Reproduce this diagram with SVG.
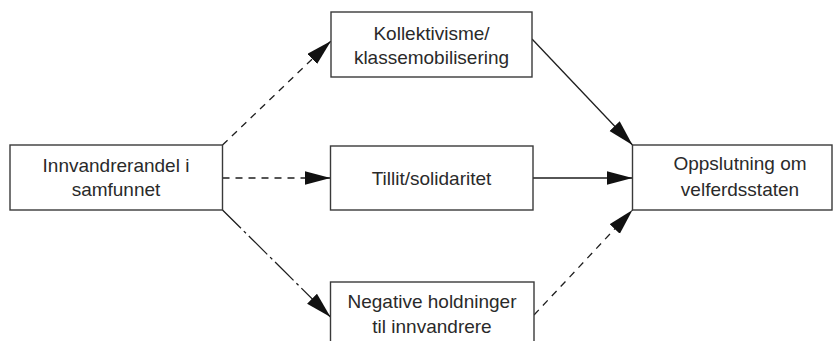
<svg xmlns="http://www.w3.org/2000/svg" width="833" height="341" viewBox="0 0 833 341">
<style>
.box{fill:#fff;stroke:#3a3a3a;stroke-width:1.4}
.lbl{font-family:"Liberation Sans",Arial,sans-serif;font-size:19px;fill:#2a2a2a;text-anchor:middle}
.edge{fill:none;stroke:#1e1e1e;stroke-width:1.3;marker-end:url(#ah)}
.dash{stroke-dasharray:7 6}
.dashdot{stroke-dasharray:26 4 3 4}
</style>
<defs>
<marker id="ah" markerUnits="userSpaceOnUse" markerWidth="28" markerHeight="16" refX="26" refY="7" orient="auto">
<path d="M0,0 L26,7 L0,14 Z" fill="#111"/>
</marker>
</defs>
<rect width="833" height="341" fill="#fff"/>
<g id="connectors">
<line class="edge dash" x1="222.5" y1="145" x2="331" y2="41"/>
<line class="edge dash" x1="222.5" y1="178" x2="330.5" y2="178"/>
<line class="edge dashdot" x1="222.5" y1="210" x2="330.5" y2="317"/>
<line class="edge" x1="532" y1="39" x2="632.5" y2="145"/>
<line class="edge" x1="533" y1="178" x2="632.5" y2="178"/>
<line class="edge dash" x1="534" y1="315" x2="632.5" y2="210"/>
</g>
<g id="innvandrerandel">
<rect class="box" x="10" y="145" width="212.5" height="65"/>
<text class="lbl" x="116" y="171.5">Innvandrerandel i</text>
<text class="lbl" x="116" y="195.5">samfunnet</text>
</g>
<g id="kollektivisme">
<rect class="box" x="331" y="12" width="201" height="65"/>
<text class="lbl" x="431.5" y="39.5">Kollektivisme/</text>
<text class="lbl" x="431.5" y="63.5">klassemobilisering</text>
</g>
<g id="tillit">
<rect class="box" x="330.5" y="146" width="202.5" height="64"/>
<text class="lbl" x="431.5" y="185">Tillit/solidaritet</text>
</g>
<g id="negative">
<rect class="box" x="330.5" y="282" width="203.5" height="70"/>
<text class="lbl" x="432" y="307.5">Negative holdninger</text>
<text class="lbl" x="432" y="333">til innvandrere</text>
</g>
<g id="oppslutning">
<rect class="box" x="632.5" y="145" width="199.5" height="65"/>
<text class="lbl" x="740" y="170">Oppslutning om</text>
<text class="lbl" x="740" y="195.5">velferdsstaten</text>
</g>
</svg>
